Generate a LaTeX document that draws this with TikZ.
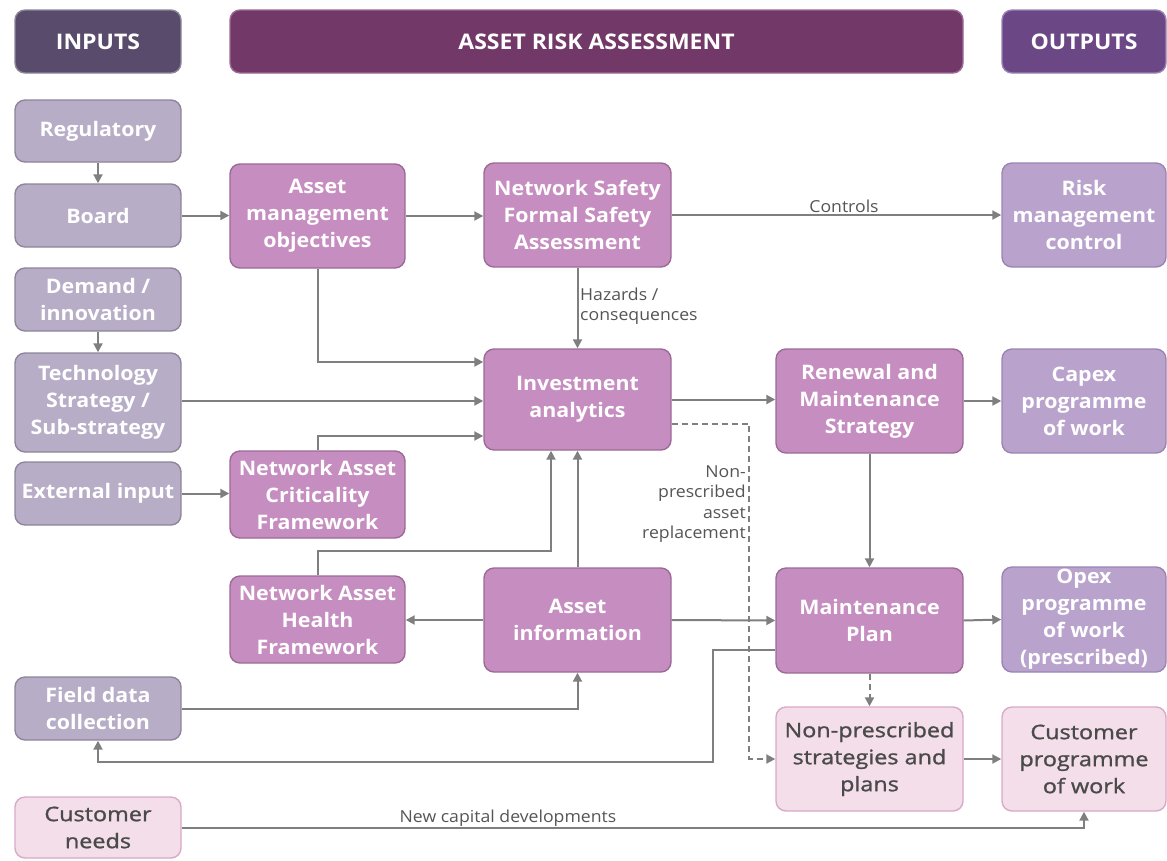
\documentclass[tikz,border=0pt]{standalone}
\usepackage{fontspec}
\setmainfont[FakeStretch=1.07]{Open Sans}
\newfontfamily\medfont[FakeStretch=1.17, FakeBold=1.2]{Open Sans}
\usetikzlibrary{arrows.meta}
\definecolor{hdin}{HTML}{594B6C}
\definecolor{hdmid}{HTML}{723968}
\definecolor{hdout}{HTML}{6B4785}
\definecolor{infill}{HTML}{B7ADC6}
\definecolor{indraw}{HTML}{8E8599}
\definecolor{midfill}{HTML}{C68EC0}
\definecolor{middraw}{HTML}{9C6A97}
\definecolor{outfill}{HTML}{B9A3CD}
\definecolor{outdraw}{HTML}{9985B3}
\definecolor{ltfill}{HTML}{F3DEE9}
\definecolor{ltdraw}{HTML}{D8A9C8}
\definecolor{lttext}{HTML}{4A4A4A}
\definecolor{conn}{HTML}{7F7F7F}
\definecolor{lbltext}{HTML}{555555}
\tikzset{
  box/.style={rounded corners=10pt, line width=1.4pt, align=center, inner sep=0pt,
    text=white, font=\fontsize{20}{27}\selectfont\bfseries},
  hdr/.style={box, minimum height=63pt, font=\fontsize{21.5}{25}\selectfont\bfseries},
  inbox/.style={box, fill=infill, draw=indraw, minimum width=166pt},
  midbox/.style={box, fill=midfill, draw=middraw, minimum width=187pt},
  fwbox/.style={box, fill=midfill, draw=middraw, minimum width=175pt},
  outbox/.style={box, fill=outfill, draw=outdraw, minimum width=164pt},
  ltbox/.style={box, fill=ltfill, draw=ltdraw, text=lttext,
    font=\fontsize{20}{27}\selectfont\medfont},
  arr/.style={draw=conn, line width=2pt, -{Triangle[length=9pt,width=9pt]}},
  darr/.style={arr, dashed, dash pattern=on 6pt off 4pt},
  lbl/.style={text=lbltext, inner sep=0pt, font=\fontsize{16.5}{20.5}\selectfont}
}
\begin{document}
\begin{tikzpicture}[x=1pt,y=-1pt]
\useasboundingbox (0,0) rectangle (1167,860);

% column headers
\node[hdr, fill=hdin, draw=indraw, minimum width=166pt] (hin) at (98,41.5) {INPUTS};
\node[hdr, fill=hdmid, draw=middraw, minimum width=733pt] (hmid) at (596.5,41.5) {ASSET RISK ASSESSMENT};
\node[hdr, fill=hdout, draw=outdraw, minimum width=164pt] (hout) at (1084,41.5) {OUTPUTS};

% inputs
\node[inbox, minimum height=62pt] (reg) at (98,131) {Regulatory};
\node[inbox, minimum height=63pt] (board) at (98,215.5) {Board};
\node[inbox, minimum height=63pt] (demand) at (98,299.5) {Demand /\\innovation};
\node[inbox, minimum height=99pt] (tech) at (98,402.5) {Technology\\Strategy /\\Sub-strategy};
\node[inbox, minimum height=63pt] (ext) at (98,493.5) {External input};
\node[inbox, minimum height=63pt] (field) at (98,708.5) {Field data\\collection};
\node[ltbox, minimum width=166pt, minimum height=61pt] (cneeds) at (98,827.5) {Customer\\needs};

% frameworks and objectives
\node[fwbox, minimum height=104pt] (amo) at (317.5,216) {Asset\\management\\objectives};
\node[fwbox, minimum height=87pt] (crit) at (317.5,494.5) {Network Asset\\Criticality\\Framework};
\node[fwbox, minimum height=87pt] (health) at (317.5,619.5) {Network Asset\\Health\\Framework};

% assessment core
\node[midbox, minimum height=104pt] (nsfsa) at (577.5,215) {Network Safety\\Formal Safety\\Assessment};
\node[midbox, minimum height=101pt] (ia) at (577.5,399.5) {Investment\\analytics};
\node[midbox, minimum height=104pt] (ainfo) at (577.5,620) {Asset\\information};

\node[midbox, minimum height=104pt] (renew) at (869.5,401) {Renewal and\\Maintenance\\Strategy};
\node[midbox, minimum height=105pt] (mplan) at (869.5,620.5) {Maintenance\\Plan};
\node[ltbox, minimum width=187pt, minimum height=104pt] (nonpres) at (869.5,759) {Non-prescribed\\strategies and\\plans};

% outputs
\node[outbox, minimum height=104pt] (risk) at (1084,215) {Risk\\management\\control};
\node[outbox, minimum height=104pt] (capex) at (1084,401) {Capex\\programme\\of work};
\node[outbox, minimum height=105pt] (opex) at (1084,619.5) {Opex\\programme\\of work\\(prescribed)};
\node[ltbox, minimum width=164pt, minimum height=104pt] (cprog) at (1084,759) {Customer\\programme\\of work};

% connector labels
\node[lbl] (lctrl) at (844,206) {Controls};
\node[lbl, anchor=west, align=left] (lhaz) at (580,306) {Hazards /\\consequences};
\node[lbl, anchor=east, align=right] (lnpr) at (746,504) {Non-\\prescribed\\asset\\replacement};
\node[lbl] (lncd) at (508,818) {New capital developments};

% connectors
\draw[arr] (reg.south) -- (board.north);
\draw[arr] (demand.south) -- (tech.north);
\draw[arr] (board.east) -- (board.east -| amo.west);
\draw[arr] (amo.east) -- (amo.east -| nsfsa.west);
\draw[arr] (nsfsa.east) -- (risk.west);
\draw[arr] (nsfsa.south) -- (ia.north);
\draw[arr] (amo.south) |- ([yshift=37.5pt]ia.west);
\draw[arr] (tech.east) ++(0,-1.5) -- ([yshift=-1.5pt]ia.west);
\draw[arr] (crit.north) |- ([yshift=-36.5pt]ia.west);
\draw[arr] (ext.east) -- (ext.east -| crit.west);
\draw[arr] (health.north) -- ++(0,-24) -| ([xshift=-26.5pt]ia.south);
\draw[arr] (ainfo.north) -- (ia.south);
\draw[arr] (ainfo.west) -- (ainfo.west -| health.east);
\draw[arr] (ainfo.east) -- (mplan.west);
\draw[arr] (ia.east) -- (ia.east -| renew.west);
\draw[arr] (renew.east) -- (capex.west);
\draw[arr] (renew.south) -- (mplan.north);
\draw[arr] (mplan.east) -- (opex.west);
\draw[darr] (mplan.south) -- (nonpres.north);
\draw[arr] (nonpres.east) -- (cprog.west);
\draw[darr] ([yshift=-24.5pt]ia.east) -| ([xshift=-26pt]nonpres.west) -- (nonpres.west);
\draw[arr] (field.east) -| (ainfo.south);
\draw[arr] ([yshift=-29.5pt]mplan.west) -- ++(-62,0) -- ++(0,112) -| (field.south);
\draw[arr] (cneeds.east) -| (cprog.south);
\end{tikzpicture}
\end{document}
